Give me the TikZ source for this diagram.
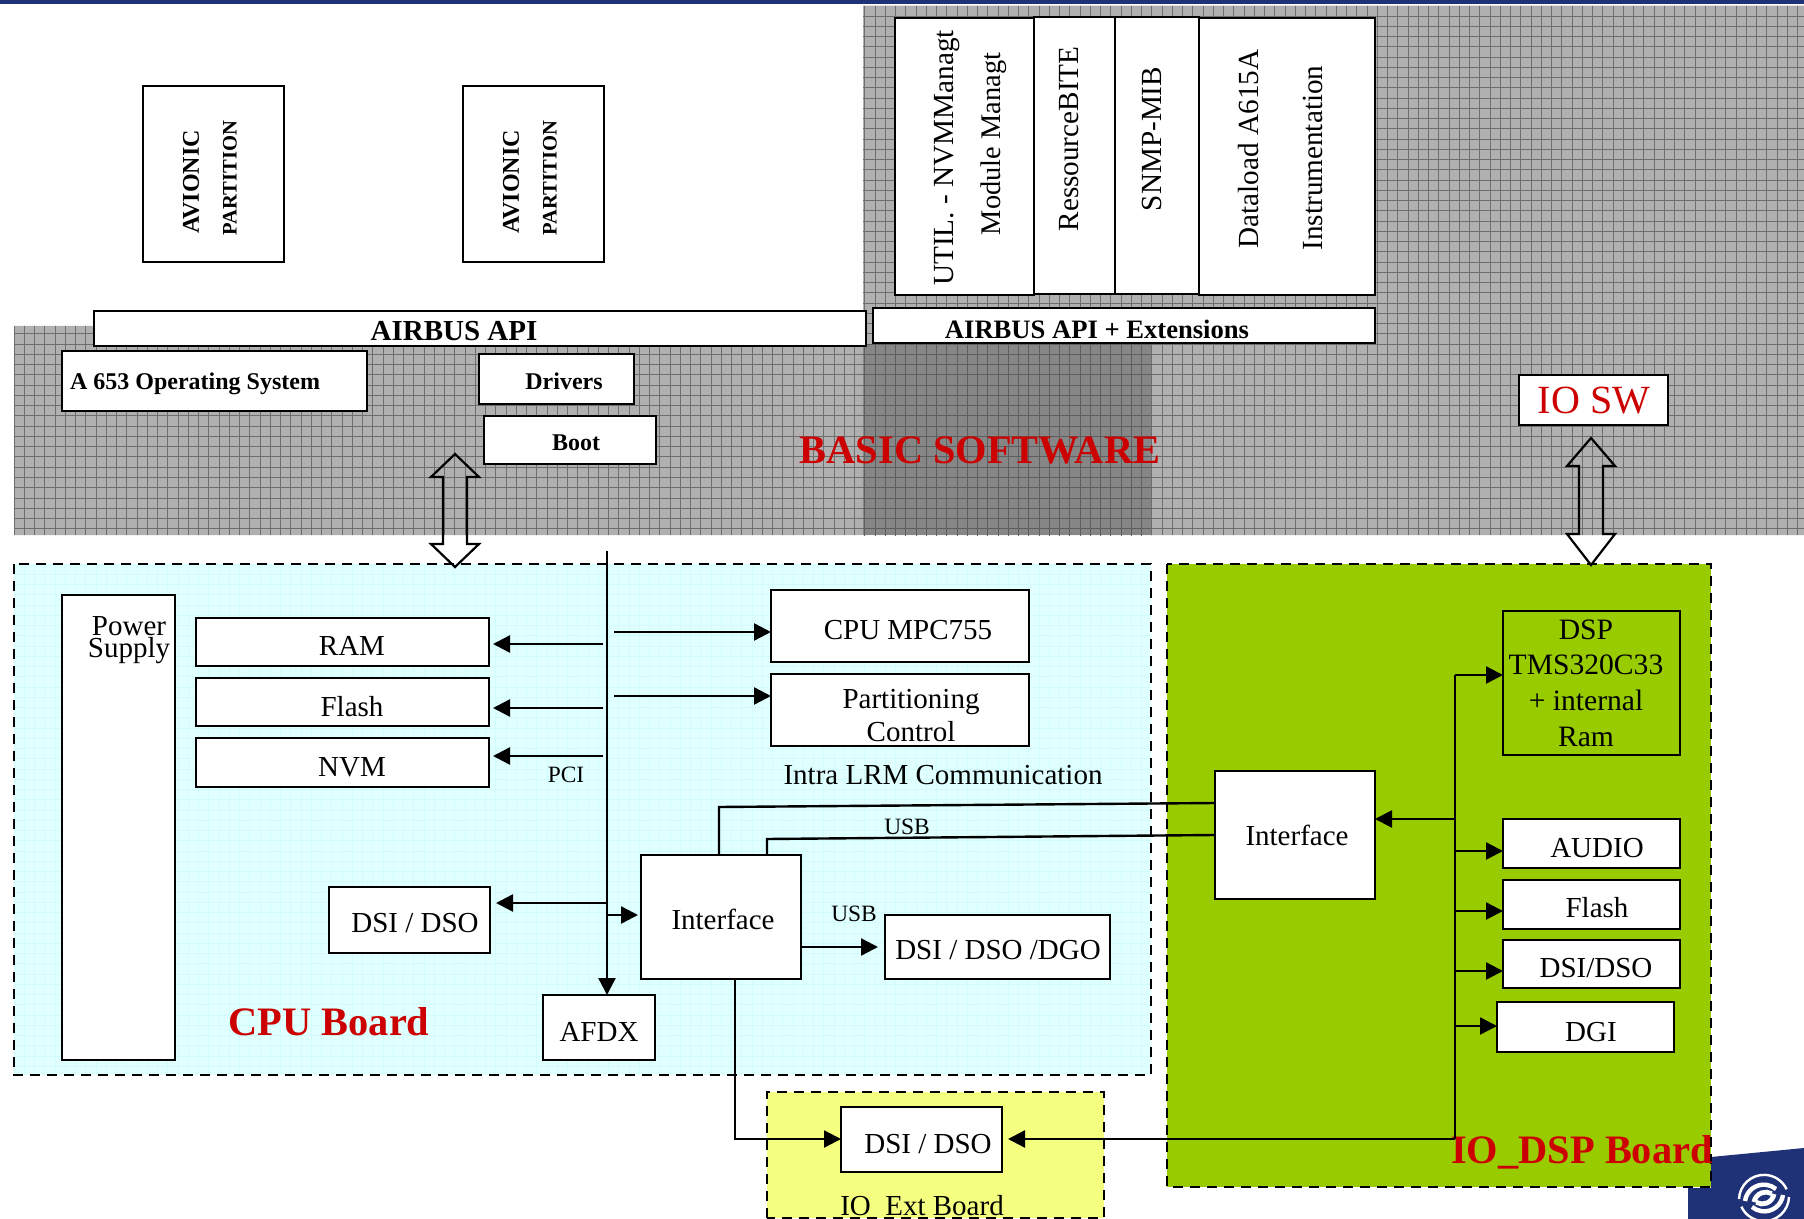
\documentclass[tikz,border=0pt]{standalone}
\usepackage{fontspec}
\setmainfont{Liberation Serif}
\usetikzlibrary{arrows.meta,calc}
\definecolor{navy}{HTML}{1F3277}
\definecolor{greyfill}{HTML}{B0B0B0}
\definecolor{greyline}{HTML}{6E6E6E}
\definecolor{darkfill}{HTML}{868686}
\definecolor{darkline}{HTML}{5E5E5E}
\definecolor{cyanfill}{HTML}{E0FFFF}
\definecolor{cyanline}{HTML}{D2FBFB}
\definecolor{dspgreen}{HTML}{99CC00}
\definecolor{extyellow}{HTML}{F4FF80}
\definecolor{redtxt}{HTML}{CC0000}
\newcommand{\fs}[1]{\fontsize{#1}{#1}\selectfont}
\newcommand{\bxx}[6][boxw]{%
  \pgfmathsetmacro{\bcx}{(#3+#5)/2}\pgfmathsetmacro{\bcy}{(#4+#6)/2}%
  \pgfmathsetmacro{\bw}{(#5-#3)*0.5}\pgfmathsetmacro{\bh}{(#6-#4)*0.5}%
  \node[#1,minimum width=\bw pt,minimum height=\bh pt] (#2) at (\bcx,\bcy) {};}
\tikzset{
  x=0.5pt,y=-0.5pt,
  boxw/.style={draw=black,fill=white,line width=0.8pt,inner sep=0,outer sep=0,rectangle},
  boxt/.style={boxw,line width=1.1pt},
  boxk/.style={boxw,line width=1.4pt},
  boxd/.style={boxw,fill=none,line width=1.25pt},
  txt/.style={inner sep=0,font=\fs{14.5}},
  sm/.style={inner sep=0,font=\fs{11.7}},
  bb/.style={inner sep=0,font=\bfseries\fs{12}},
  rd/.style={inner sep=0,text=redtxt,font=\bfseries\fs{20.2}},
  rt/.style={inner sep=0,rotate=90,font=\fs{14.6}},
  wire/.style={line width=1.2pt,draw=black},
  arr/.style={wire,-{Triangle[length=8.5pt,width=8.5pt]}},
  dashb/.style={draw=black,line width=1.25pt,dash pattern=on 5pt off 3.5pt},
  dbl/.style={draw=black,line width=1.1pt,line join=miter},
}
\begin{document}
\begin{tikzpicture}
\useasboundingbox (0,0) rectangle (1804,1219);
\fill[white] (0,0) rectangle (1804,1219);
% top bar
\fill[navy] (0,0) rectangle (1804,4);
% basic software hatch
\fill[greyfill] (14,326) -- (863,326) -- (863,6) -- (1804,6) -- (1804,535) -- (14,535) -- cycle;
\begin{scope}
 \clip (14,326) -- (863,326) -- (863,6) -- (1804,6) -- (1804,535) -- (14,535) -- cycle;
 \foreach \i in {0,...,176} \draw[greyline,line width=.5pt] ({14+\i*10.25},0) -- ({14+\i*10.25},540);
 \foreach \i in {0,...,52} \draw[greyline,line width=.5pt] (0,{6+\i*10.25}) -- (1804,{6+\i*10.25});
\end{scope}
\fill[darkfill] (863,345) rectangle (1151,535);
\begin{scope}
 \clip (863,345) rectangle (1151,535);
 \foreach \i in {0,...,176} \draw[darkline,line width=.5pt] ({14+\i*10.25},0) -- ({14+\i*10.25},540);
 \foreach \i in {0,...,52} \draw[darkline,line width=.5pt] (0,{6+\i*10.25}) -- (1804,{6+\i*10.25});
\end{scope}
% boards
\fill[cyanfill] (14,564) rectangle (1151,1075);
\begin{scope}
 \clip (14,564) rectangle (1151,1075);
 \foreach \i in {0,...,112} \draw[cyanline,line width=.4pt] ({14+\i*10.25},564) -- ({14+\i*10.25},1075);
 \foreach \i in {0,...,50} \draw[cyanline,line width=.4pt] (14,{564+\i*10.25}) -- (1151,{564+\i*10.25});
\end{scope}
\draw[dashb] (14,564) rectangle (1151,1075);
\fill[navy] (1688,1219) -- (1688,1188) -- (1711,1188) -- (1711,1157) -- (1804,1148) -- (1804,1219) -- cycle;
\fill[dspgreen] (1167,564) rectangle (1711,1187);
\draw[dashb] (1167,564) rectangle (1711,1187);
\fill[extyellow] (767,1092) rectangle (1104,1218);
\draw[dashb] (767,1218) -- (767,1092) -- (1104,1092) -- (1104,1218) -- cycle;
% logo
\foreach \rr in {0,180}{
\begin{scope}[shift={(1764,1198)},rotate=\rr]
 \draw[white,line width=1.2pt] (-25,1) arc[start angle=-178,end angle=-25,radius=25];
 \draw[white,line width=2.2pt] (-19,3) arc[start angle=-172,end angle=-50,radius=19];
 \draw[white,line width=2.4pt] (-10,4) arc[start angle=-170,end angle=-60,radius=12];
\end{scope}}
% top boxes
\bxx{avl}{143}{86}{284}{262}
\node[rt,font=\bfseries\fs{12}] (avlA) at (191,182) {AVIONIC};
\node[rt,font=\bfseries\fs{10.3}] (avlP) at (230,178) {PARTITION};
\bxx{avr}{463}{86}{604}{262}
\node[rt,font=\bfseries\fs{12}] (avrA) at (511,182) {AVIONIC};
\node[rt,font=\bfseries\fs{10.3}] (avrP) at (550,178) {PARTITION};
\bxx[boxt]{util}{895}{18}{1034}{295}
\bxx[boxt]{ress}{1034}{17}{1115}{294}
\bxx[boxt]{snmp}{1115}{17}{1199}{294}
\bxx[boxt]{data}{1199}{18}{1375}{295}
\node[rt] (utilA) at (947,158) {UTIL. - NVMManagt};
\node[rt,font=\fs{14.2}] (utilB) at (994,144) {Module Managt};
\node[rt] (resst) at (1069,139) {RessourceBITE};
\node[rt] (snmpt) at (1152,139) {SNMP-MIB};
\node[rt] (dataA) at (1248,149) {Dataload A615A};
\node[rt] (dataB) at (1313,158) {Instrumentation};
\bxx[boxk]{apil}{94}{311}{866}{346}
\node[inner sep=0,font=\bfseries\fs{14.5}] (apilt) at (454,331) {AIRBUS API};
\bxx{apir}{873}{308}{1375}{343}
\node[inner sep=0,font=\bfseries\fs{13.3}] (apirt) at (1097,329) {AIRBUS API + Extensions};
\bxx[boxk]{os}{62}{351}{367}{411}
\node[bb] (ost) at (195,384) {A 653 Operating System};
\bxx{drv}{479}{354}{634}{404}
\node[bb] (drvt) at (564,381) {Drivers};
\bxx{boot}{484}{416}{656}{464}
\node[bb] (boott) at (576,443) {Boot};
\bxx{iosw}{1519}{375}{1668}{425}
\node[inner sep=0,text=redtxt,font=\fs{20}] (iot) at (1594,401) {IO SW};
\node[rd] (bs) at (980,450) {BASIC SOFTWARE};
% double arrows
\coordinate (da) at (455,510);
\coordinate (db) at (1591,500);
\draw[dbl] ($(da)+(0,-56)$) -- ++(24,23) -- ++(-12,0) -- ++(0,67) -- ++(12,0) -- ++(-24,23) -- ++(-24,-23) -- ++(12,0) -- ++(0,-67) -- ++(-12,0) -- cycle;
\draw[dbl] ($(db)+(0,-62)$) -- ++(24,28) -- ++(-12,0) -- ++(0,68) -- ++(12,0) -- ++(-24,31) -- ++(-24,-31) -- ++(12,0) -- ++(0,-68) -- ++(-12,0) -- cycle;
% CPU board
\bxx{pwr}{62}{595}{175}{1060}
\node[inner sep=0,align=center,font=\fontsize{14.5}{11}\selectfont] (pwrt) at (129,640) {Power\\Supply};
\bxx{ram}{196}{618}{489}{666}
\node[txt] (ramt) at (352,646) {RAM};
\bxx{flash}{196}{678}{489}{726}
\node[txt] (flasht) at (352,707) {Flash};
\bxx{nvm}{196}{738}{489}{787}
\node[txt] (nvmt) at (352,767) {NVM};
\bxx{cpu}{771}{590}{1029}{662}
\node[txt] (cput) at (908,630) {CPU MPC755};
\bxx{part}{771}{674}{1029}{746}
\node[inner sep=0,align=center,font=\fontsize{14.5}{16.5}\selectfont] (partt) at (911,716) {Partitioning\\Control};
\node[sm] (pci) at (566,775) {PCI};
\node[txt] (intra) at (943,775) {Intra LRM Communication};
\bxx{dsil}{329}{887}{490}{953}
\node[txt] (dsilt) at (415,923) {DSI / DSO};
\bxx{ifl}{641}{855}{801}{979}
\node[txt] (iflt) at (723,919) {Interface};
\bxx{dgo}{885}{915}{1110}{979}
\node[txt] (dgot) at (998,950) {DSI / DSO /DGO};
\bxx{afdx}{543}{995}{655}{1060}
\node[txt] (afdxt) at (599,1032) {AFDX};
\node[sm] (usbb) at (854,914) {USB};
\node[sm] (usbt) at (907,827) {USB};
\node[rd] (cpub) at (329,1022) {CPU Board};
% IO ext
\bxx{dsie}{841}{1107}{1002}{1172}
\node[txt] (dsiet) at (928,1144) {DSI / DSO};
\node[txt] (extb) at (922,1206) {IO\ \ Ext Board};
% IO DSP
\bxx{ifr}{1215}{771}{1375}{899}
\node[txt] (ifrt) at (1297,835) {Interface};
\bxx[boxd]{dsp}{1503}{611}{1680}{755}
\node[inner sep=0,align=center,font=\fontsize{14.8}{17.8}\selectfont] (dspt) at (1586,683) {DSP\\TMS320C33\\+ internal\\Ram};
\bxx{audio}{1503}{819}{1680}{868}
\node[txt] (audiot) at (1597,848) {AUDIO};
\bxx{flr}{1503}{880}{1680}{929}
\node[txt] (flrt) at (1597,908) {Flash};
\bxx{dsr}{1503}{940}{1680}{988}
\node[txt] (dsrt) at (1596,968) {DSI/DSO};
\bxx{dgi}{1497}{1002}{1674}{1052}
\node[txt] (dgit) at (1591,1032) {DGI};
\node[rd] (dspb) at (1582,1152) {IO\_DSP Board};
% bus
\coordinate (bustop) at (607,551);
\draw[arr] (bustop) -- (bustop |- afdx.north);
\coordinate (bR) at (603,644); \coordinate (bF) at (603,708); \coordinate (bN) at (603,756);
\coordinate (bC) at (614,632); \coordinate (bP) at (614,696);
\draw[arr,shorten >=2pt] (bR) -- (bR -| ram.east);
\draw[arr,shorten >=2pt] (bF) -- (bF -| flash.east);
\draw[arr,shorten >=2pt] (bN) -- (bN -| nvm.east);
\draw[arr] (bC) -- (bC -| cpu.west);
\draw[arr] (bP) -- (bP -| part.west);
\coordinate (bD) at (607,903); \coordinate (bI) at (607,915);
\draw[arr,shorten >=3pt] (bD) -- (bD -| dsil.east);
\draw[arr,shorten >=1.5pt] (bI) -- (bI -| ifl.west);
% interface links
\coordinate (l1) at (719,807); \coordinate (l2) at (767,839);
\coordinate (r1) at (1215,803); \coordinate (r2) at (1215,835);
\draw[wire] (l1 |- ifl.north) -- (l1) -- (r1);
\draw[wire] (l2 |- ifl.north) -- (l2) -- (r2);
\coordinate (o1) at (801,947);
\draw[arr,shorten >=3.5pt] (o1) -- (o1 -| dgo.west);
\coordinate (dn) at (735,1139);
\draw[arr] (dn |- ifl.south) -- (dn) -- (dn -| dsie.west);
% trunk
\coordinate (tt) at (1455,675); \coordinate (tb) at (1455,1139);
\draw[wire] (tt) -- (tb);
\draw[arr] (tt) -- (tt -| dsp.west);
\coordinate (tA) at (1455,851); \coordinate (tF) at (1455,911); \coordinate (tS) at (1455,971); \coordinate (tG) at (1455,1026); \coordinate (tI) at (1455,819);
\draw[arr] (tA) -- (tA -| audio.west);
\draw[arr] (tF) -- (tF -| flr.west);
\draw[arr] (tS) -- (tS -| dsr.west);
\draw[arr] (tG) -- (tG -| dgi.west);
\draw[arr] (tI) -- (tI -| ifr.east);
\draw[arr,shorten >=3pt] (tb) -- (tb -| dsie.east);
\end{tikzpicture}
\end{document}
